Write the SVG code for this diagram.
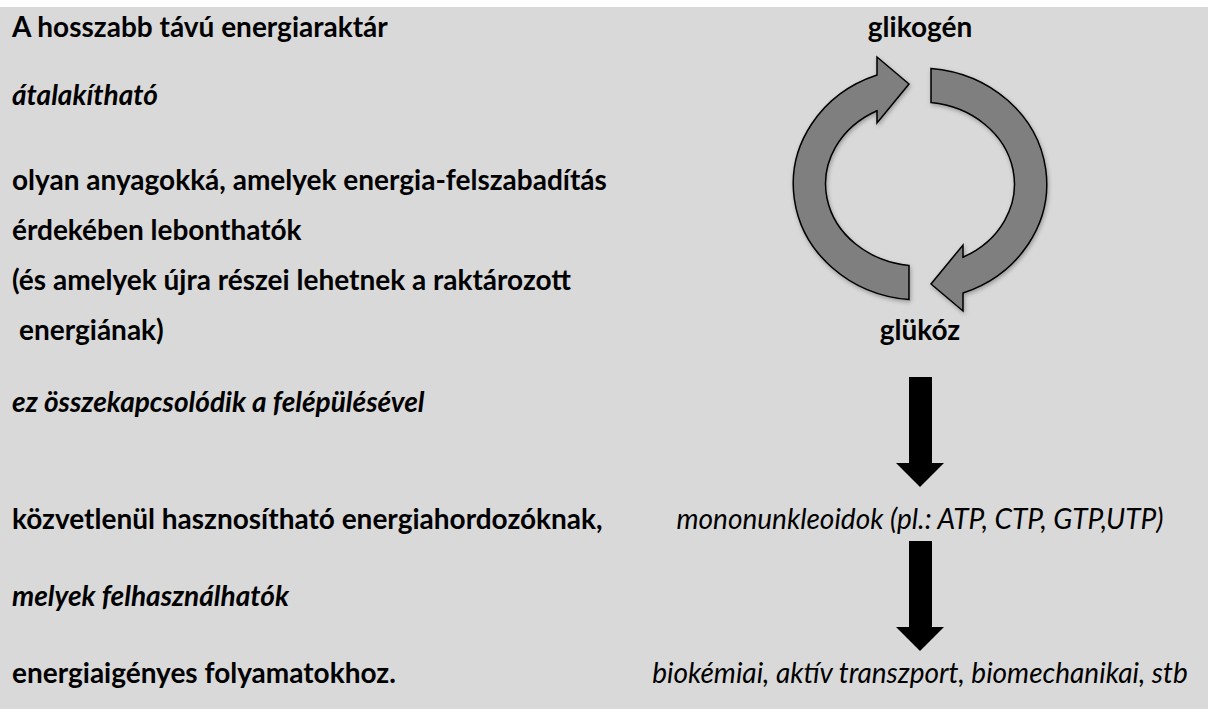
<svg xmlns="http://www.w3.org/2000/svg" width="1208" height="709" viewBox="0 0 1208 709">
  <style>
    .t { font-family: Lato, "Open Sans", "Liberation Sans", sans-serif; font-size: 28px; fill: #000; }
    .b { font-weight: bold; }
    .i { font-style: italic; }
    .m { text-anchor: middle; }
    .cyc { fill: #7f7f7f; stroke: #000; stroke-width: 1.5; stroke-linejoin: miter; }
  </style>
  <defs>
    <filter id="soft" x="-10%" y="-10%" width="130%" height="130%">
      <feDropShadow dx="1" dy="2" stdDeviation="2" flood-color="#000" flood-opacity="0.3"/>
    </filter>
    <!-- one half of the cycle: arc from the bottom, round the left side, arrowhead at the top -->
    <path id="half" d="M 909 299.6 A 127 116 0 0 1 877 75 L 877 57 L 909 84 L 877 123 L 877 110.8 A 94 82 0 0 0 909 265.4 Z"/>
  </defs>

  <rect x="0" y="7" width="1208" height="702" fill="#d9d9d9"/>

  <g id="text-left">
    <text class="t b" x="12" y="37">A hosszabb távú energiaraktár</text>
    <text class="t b i" x="12" y="105">átalakítható</text>
    <text class="t b" x="12" y="190">olyan anyagokká, amelyek energia-felszabadítás</text>
    <text class="t b" x="12" y="240">érdekében lebonthatók</text>
    <text class="t b" x="12" y="290">(és amelyek újra részei lehetnek a raktározott</text>
    <text class="t b" x="19" y="340">energiának)</text>
    <text class="t b i" x="12" y="412">ez összekapcsolódik a felépülésével</text>
    <text class="t b" x="12" y="529">közvetlenül hasznosítható energiahordozóknak,</text>
    <text class="t b i" x="12" y="606">melyek felhasználhatók</text>
    <text class="t b" x="12" y="683">energiaigényes folyamatokhoz.</text>
  </g>

  <g id="node-glikogen">
    <text class="t b m" x="920" y="37">glikogén</text>
  </g>
  <g id="node-glukoz">
    <text class="t b m" x="920" y="340">glükóz</text>
  </g>
  <g id="node-nukleotidok">
    <text class="t i m" x="920" y="529">mononunkleoidok (pl.: ATP, CTP, GTP,UTP)</text>
  </g>
  <g id="node-folyamatok">
    <text class="t i m" x="920" y="683">biokémiai, aktív transzport, biomechanikai, stb</text>
  </g>

  <g id="connectors">
    <g id="cycle" filter="url(#soft)">
      <use href="#half" class="cyc"/>
      <use href="#half" class="cyc" transform="rotate(180 920 184)"/>
    </g>
    <path d="M 909 377 H 932 V 463 H 944 L 920 487 L 896 463 H 909 Z" fill="#000"/>
    <path d="M 909 541 H 932 V 627 H 944 L 920 651 L 896 627 H 909 Z" fill="#000"/>
  </g>
</svg>
